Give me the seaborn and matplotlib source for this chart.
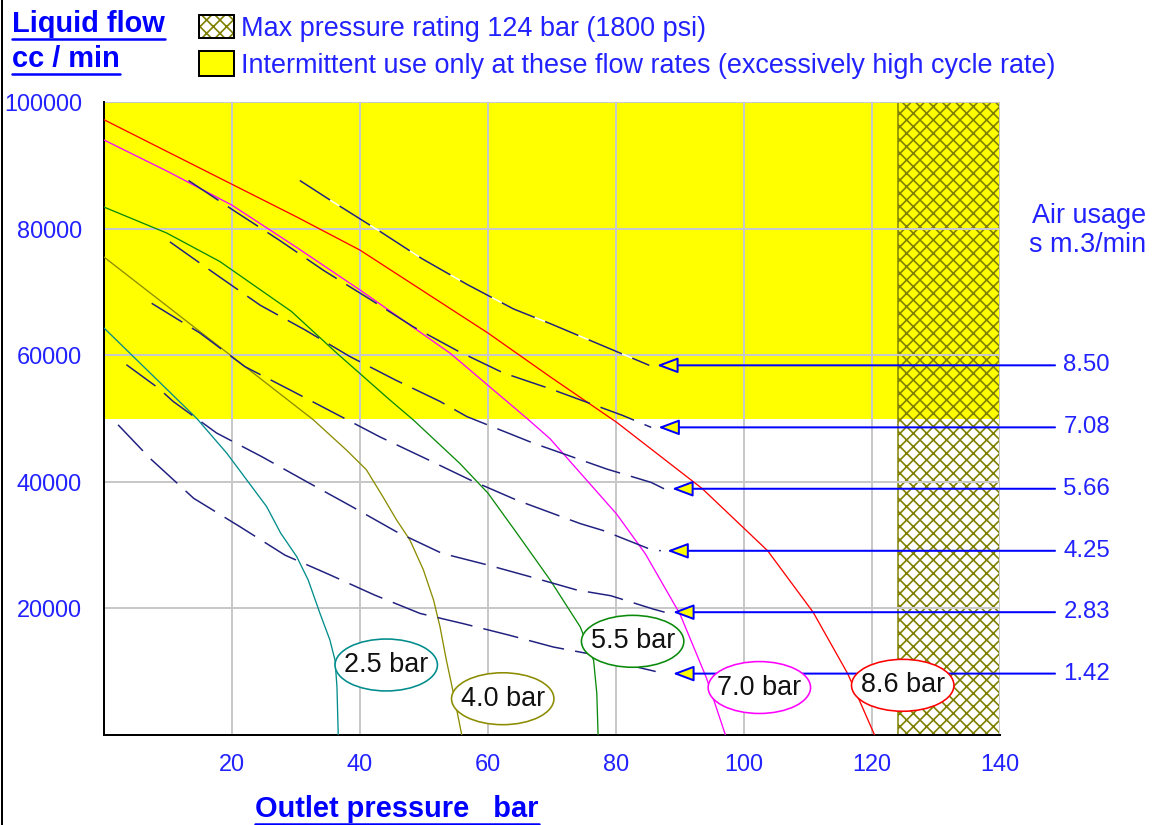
import numpy as np
import pandas as pd
import matplotlib.pyplot as plt
import seaborn as sns
from matplotlib.patches import Rectangle, Ellipse
from matplotlib.lines import Line2D

DPI = 80
W, H = 1152, 825


def px(v):
    # pixels -> points at this dpi
    return v * 72 / DPI


# ---- pressure curves: outlet pressure (bar) vs liquid flow (cc/min)
bar_labels = ['2.5 bar', '4.0 bar', '5.5 bar', '7.0 bar', '8.6 bar']
p25_x = [0, 14.5, 19.2, 22.3, 25.4, 27.6, 30.1, 31.9, 33.75, 35.3, 36.1, 36.4, 36.6]
p25_y = [64300, 50000, 44500, 40300, 36100, 31900, 28200, 24500, 19200, 15000, 11800, 7600, 0]
p40_x = [0, 20, 32.7, 37.9, 41.0, 43.6, 45.7, 47.8, 49.9, 51.5, 52.5, 53.5, 54.6, 55.9]
p40_y = [75500, 59800, 49800, 45000, 41900, 37600, 34000, 30800, 26100, 21300, 17100, 11800, 6600, 0]
p55_x = [0, 9.8, 18.1, 29.3, 36.4, 44.7, 48.3, 55.6, 60, 64.5, 69.7, 74.4, 76.5, 77, 77.2]
p55_y = [83400, 79300, 74800, 66900, 60300, 52900, 49800, 42900, 38200, 31900, 24500, 17100, 11800, 6600, 0]
p70_x = [0, 10, 20, 30, 40, 54.1, 66.1, 69.7, 80.1, 84.6, 90, 94.1, 97.1]
p70_y = [94000, 89000, 83700, 77100, 70300, 60300, 50000, 46800, 34900, 28600, 19100, 9100, 0]
p86_x = [0, 20, 30, 40, 60, 69.7, 80.1, 93.5, 103.7, 110.8, 116.2, 120.4]
p86_y = [97200, 87000, 81900, 76600, 63500, 56600, 49400, 38900, 29100, 19400, 9700, 0]

# ---- air usage curves (s m3/min)
air_labels = ['8.50', '7.08', '5.66', '4.25', '2.83', '1.42']
air_levels = [58400, 48600, 38900, 29100, 19400, 9700]
a850_x = [30.6, 35.8, 42.9, 49.6, 56.7, 64, 69.7, 79.8, 85.2]
a850_y = [87600, 84200, 79700, 75300, 71200, 67300, 65000, 60700, 58400]
a708_x = [13.2, 20.2, 27.5, 34.3, 41.3, 48.3, 55.4, 62.4, 69.7, 81, 85.5]
a708_y = [87600, 82900, 78100, 73400, 69000, 64500, 60600, 57200, 54700, 50500, 48600]
a566_x = [10.3, 17.3, 24.4, 31.4, 38.4, 45.5, 52.5, 56.7, 67.1, 78.6, 85.5, 87.5]
a566_y = [77900, 72900, 67900, 64000, 59800, 56100, 52700, 50300, 46100, 42000, 39900, 38900]
a425_x = [7.45, 15, 22, 29.1, 36.1, 43.1, 50.2, 57.2, 64.5, 74.4, 78, 85.2, 87]
a425_y = [68200, 63500, 58200, 54500, 50800, 47100, 43700, 40300, 37100, 33400, 32300, 29400, 29100]
a283_x = [3.5, 8.5, 10.8, 17.6, 24.6, 31.7, 38.7, 45.7, 52.8, 59.8, 66.6, 73.9, 79.2, 85.8, 87.6]
a283_y = [58500, 54800, 52700, 47700, 44000, 40000, 36100, 32100, 28700, 26900, 25000, 22900, 22000, 19900, 19400]
a142_x = [2.2, 7.2, 14, 21.25, 28.3, 35.3, 42.3, 49.4, 56.1, 63.2, 70.2, 77, 83.4, 87.6]
a142_y = [49000, 43700, 37400, 32900, 28400, 25300, 22100, 19200, 17600, 15800, 13900, 12600, 10700, 9700]

x_ticks = [20, 40, 60, 80, 100, 120, 140]
y_ticks = [20000, 40000, 60000, 80000, 100000]

# styling / placement (not data)
bar_colors = ['#008c8c', '#8c8c00', '#0a8a0a', '#ff00ff', '#ff0000']
ellipse_pos = [(44.1, 11060), (62.3, 5730), (82.6, 14800), (102.4, 7500), (124.8, 7850)]
arrow_tips = [86.4, 86.6, 88.75, 88.0, 88.9, 88.9]
navy = '#202080'
blue_txt = '#2222ff'
blue = '#0000ff'
olive = '#808000'

sns.set_style('white')
plt.rcParams['font.family'] = ['Liberation Sans', 'DejaVu Sans']
plt.rcParams['hatch.linewidth'] = 1.5

fig = plt.figure(figsize=(W / DPI, H / DPI), dpi=DPI)
ax = fig.add_axes([104 / W, 1 - 735 / H, (1000 - 104) / W, (735 - 102) / H])

# background zones
ax.axhspan(50000, 100000, facecolor='#ffff00', edgecolor='none', zorder=1)
ax.axvspan(124, 140, facecolor='none', edgecolor=olive, hatch='xx', lw=0, zorder=1.2)
ax.axvline(124, color=olive, lw=px(1.5), zorder=1.3)

# solid pressure curves
curves = pd.concat([
    pd.DataFrame({'x': xs, 'y': ys, 'curve': lab})
    for lab, xs, ys in zip(bar_labels,
                           [p25_x, p40_x, p55_x, p70_x, p86_x],
                           [p25_y, p40_y, p55_y, p70_y, p86_y])
])
sns.lineplot(data=curves, x='x', y='y', hue='curve', palette=dict(zip(bar_labels, bar_colors)),
             estimator=None, sort=False, legend=False, lw=px(1.3), ax=ax, zorder=3)

# dashed air usage curves
air = pd.concat([
    pd.DataFrame({'x': xs, 'y': ys, 'curve': lab})
    for lab, xs, ys in zip(air_labels[1:],
                           [a708_x, a566_x, a425_x, a283_x, a142_x],
                           [a708_y, a566_y, a425_y, a283_y, a142_y])
])
sns.lineplot(data=air, x='x', y='y', units='curve', color=navy, estimator=None, sort=False,
             lw=px(1.5), linestyle=(0, (24, 7.5)), ax=ax, zorder=3)
sns.lineplot(x=a850_x, y=a850_y, color=navy, lw=px(1.5), linestyle=(0, (24, 7.5)),
             gapcolor='white', sort=False, ax=ax, zorder=3)

# arrows with labels on the right
for lab, lvl, tip in zip(air_labels, air_levels, arrow_tips):
    ax.annotate('', xy=(tip, lvl), xytext=(148.6, lvl), annotation_clip=False,
                arrowprops=dict(arrowstyle='-|>,head_length=0.8,head_width=0.3', mutation_scale=20,
                                fc='#ffff00', ec=blue, lw=px(2), shrinkA=0, shrinkB=0),
                zorder=4)
    ax.text(149.9, lvl, lab, ha='left', va='center', color=blue_txt, fontsize=px(24))

# pressure labels in ellipses
for lab, col, (cx, cy) in zip(bar_labels, bar_colors, ellipse_pos):
    ax.add_patch(Ellipse((cx, cy), 16, 8200, fc='white', ec=col, lw=px(1.6), zorder=5))
    ax.text(cx, cy, lab, ha='center', va='center', fontsize=px(27), color='#111111', zorder=6)

# axes look
ax.set_xlim(0, 140)
ax.set_ylim(0, 100000)
ax.set_xticks(x_ticks)
ax.set_xticklabels([str(v) for v in x_ticks])
ax.set_yticks(y_ticks)
ax.set_yticklabels([str(v) for v in y_ticks])
ax.set_xlabel('')
ax.set_ylabel('')
ax.grid(True, color='#c8c8c8', lw=px(2))
ax.set_axisbelow('line')
sns.despine(ax=ax, top=True, right=True)
for s in ['left', 'bottom']:
    ax.spines[s].set_color('black')
    ax.spines[s].set_linewidth(px(2))
ax.tick_params(axis='both', direction='out', color=blue, labelcolor=blue_txt,
               width=px(2), length=px(10), labelsize=px(23.5))
ax.tick_params(axis='x', pad=px(8))
ax.tick_params(axis='y', pad=px(12))


def fy(py):
    return 1 - py / H


# titles (bold, underlined)
titles = [
    ('Liquid flow', 12, 32),
    ('cc / min', 12, 67),
    ('Outlet pressure   bar', 255, 817),
]
title_objs = []
for s, x0, base in titles:
    t = fig.text(x0 / W, fy(base), s, ha='left', va='baseline', fontsize=px(29),
                 fontweight='bold', color=blue)
    title_objs.append((t, base))

# legend
fig.add_artist(Rectangle((199 / W, fy(38)), 35 / W, 23 / H, transform=fig.transFigure,
                         fc='white', ec=olive, hatch='xx', lw=0))
fig.add_artist(Rectangle((199 / W, fy(38)), 35 / W, 23 / H, transform=fig.transFigure,
                         fc='none', ec='black', lw=px(2)))
fig.add_artist(Rectangle((199 / W, fy(76)), 35 / W, 25 / H, transform=fig.transFigure,
                         fc='#ffff00', ec='black', lw=px(2)))
fig.text(241 / W, fy(36), 'Max pressure rating 124 bar (1800 psi)', ha='left', va='baseline',
         fontsize=px(27), color=blue_txt)
fig.text(241 / W, fy(73), 'Intermittent use only at these flow rates (excessively high cycle rate)',
         ha='left', va='baseline', fontsize=px(27), color=blue_txt)

# right side caption
fig.text(1146 / W, fy(223), 'Air usage', ha='right', va='baseline', fontsize=px(27), color=blue_txt)
fig.text(1146 / W, fy(252), 's m.3/min', ha='right', va='baseline', fontsize=px(27), color=blue_txt)

# left border of the picture
fig.add_artist(Line2D([2 / W, 2 / W], [0, 1], transform=fig.transFigure, color='black', lw=px(2)))

# underline the titles
fig.canvas.draw()
r = fig.canvas.get_renderer()
for t, base in title_objs:
    bb = t.get_window_extent(renderer=r)
    fig.add_artist(Line2D([bb.x0 / W, bb.x1 / W], [fy(base + 6.5)] * 2, transform=fig.transFigure,
                          color=blue, lw=px(2.5)))

fig.savefig('out.png', dpi=DPI)
